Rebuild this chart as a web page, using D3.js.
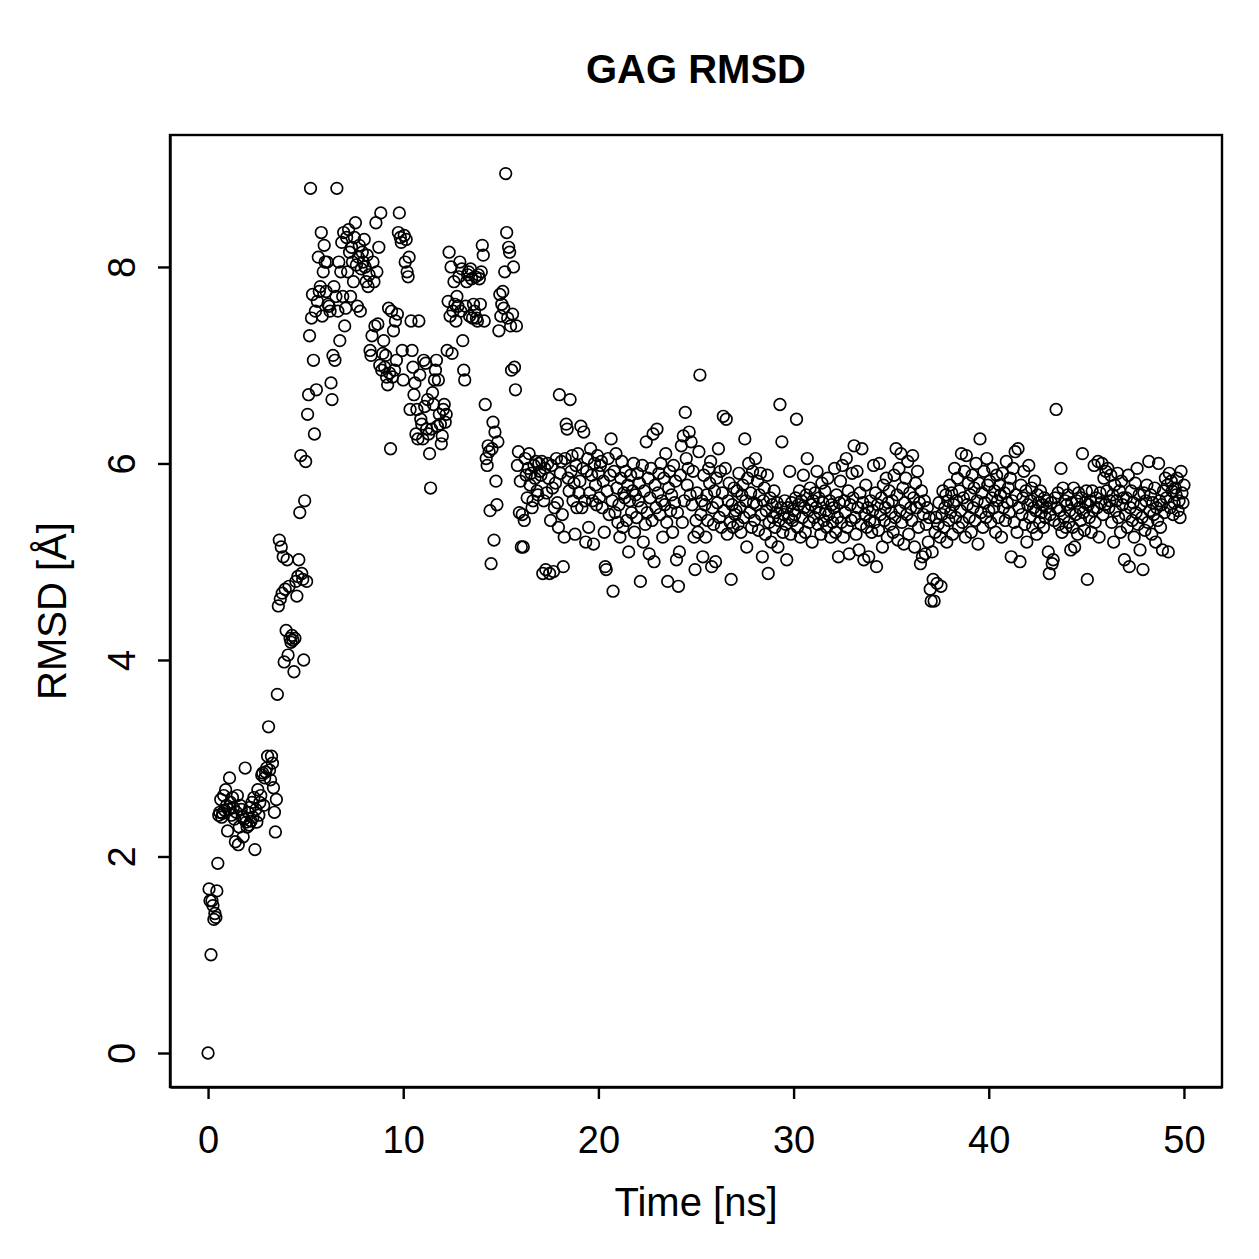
<!DOCTYPE html>
<html>
<head>
<meta charset="utf-8">
<script src="https://cdn.jsdelivr.net/npm/d3@7"></script>
<style>
  body { margin: 0; background: #fff; }
  text { font-family: "Liberation Sans", Arial, Helvetica, sans-serif; fill: #000; }
</style>
</head>
<body>
<svg width="1259" height="1259"></svg>
<script>
// frame interval of the trajectory (ns)
var frameStep = 0.05;

var xTicks = [0, 10, 20, 30, 40, 50];
var yTicks = [0, 2, 4, 6, 8];

// RMSD per frame (frame 0 .. 1000)
var rmsd = [
  0.00,
  1.67, 1.55, 1.00, 1.55, 1.50, 1.36, 1.42, 1.38, 1.65, 1.93, 2.42, 2.45, 2.58, 2.40, 2.44, 2.62, 2.47, 2.68, 2.52, 2.26,
  2.48, 2.80, 2.55, 2.42, 2.60, 2.50, 2.38, 2.15, 2.45, 2.62, 2.12, 2.30, 2.52, 2.48, 2.40, 2.20, 2.38, 2.90, 2.35, 2.30,
  2.45, 2.32, 2.50, 2.36, 2.55, 2.40, 2.60, 2.07, 2.48, 2.35, 2.68, 2.42, 2.55, 2.62, 2.83, 2.85, 2.52, 2.80, 2.86, 2.90,
  3.02, 3.32, 2.88, 2.78, 3.02, 2.95, 2.70, 2.45, 2.25, 2.58, 3.65, 4.55, 5.22, 4.62, 5.15, 4.68, 5.05, 3.98, 4.72, 4.30,
  5.02, 4.05, 4.75, 4.22, 4.18, 4.25, 4.20, 3.88, 4.22, 4.80, 4.65, 4.85, 5.02, 5.50, 6.08, 4.88, 4.82, 4.00, 5.62, 6.02,
  4.80, 6.50, 6.70, 7.30, 8.80, 7.48, 7.72, 7.05, 6.30, 7.55, 6.75, 7.65, 8.10, 7.75, 7.80, 8.35, 7.50, 7.95, 8.22, 8.05,
  7.75, 8.05, 7.62, 7.60, 7.55, 6.82, 6.65, 7.10, 7.80, 7.05, 7.70, 8.80, 7.55, 8.05, 7.25, 7.95, 8.25, 7.70, 8.35, 7.40,
  7.58, 8.30, 7.95, 8.38, 8.15, 7.70, 8.20, 8.05, 7.85, 8.30, 8.45, 8.02, 7.60, 8.10, 8.22, 7.55, 7.98, 8.15, 8.05, 8.28,
  8.00, 7.85, 8.12, 7.80, 7.92, 7.15, 7.10, 7.30, 8.05, 7.85, 7.40, 8.45, 7.95, 7.42, 8.20, 7.00, 8.55, 6.95, 7.12, 7.25,
  6.98, 7.10, 6.88, 6.80, 7.58, 6.92, 6.15, 7.55, 6.88, 7.35, 6.95, 7.45, 7.05, 7.52, 8.35, 8.55, 8.30, 8.25, 7.15, 6.85,
  8.32, 8.05, 8.28, 7.95, 7.90, 8.10, 6.55, 7.45, 7.15, 6.98, 6.70, 6.82, 6.30, 6.55, 6.25, 7.45, 6.90, 6.45, 6.40, 6.25,
  7.05, 6.58, 7.02, 6.35, 6.65, 6.30, 6.10, 5.75, 6.35, 6.72, 6.60, 6.85, 6.95, 7.05, 6.38, 6.85, 6.50, 6.40, 6.20, 6.28,
  6.55, 6.60, 6.42, 6.50, 7.15, 7.65, 8.15, 7.50, 8.00, 7.12, 7.55, 7.85, 7.62, 7.45, 7.70, 7.60, 7.90, 8.05, 7.55, 7.98,
  7.25, 6.95, 6.85, 7.60, 7.85, 7.92, 7.95, 7.50, 7.98, 7.88, 7.48, 7.62, 7.55, 7.90, 7.48, 7.45, 7.92, 7.88, 7.62, 7.95,
  8.22, 8.12, 7.45, 6.60, 6.05, 5.98, 6.18, 6.12, 5.52, 4.98, 6.15, 6.42, 5.22, 6.32, 5.82, 5.58, 6.22, 7.35, 7.72, 7.50,
  7.62, 7.75, 7.58, 7.95, 8.95, 8.35, 7.48, 8.20, 8.15, 7.40, 6.95, 7.52, 8.00, 6.98, 6.75, 7.40, 5.98, 6.12, 5.50, 5.82,
  5.15, 5.48, 5.15, 5.42, 6.05, 5.88, 5.65, 5.95, 6.10, 5.78, 5.90, 5.55, 5.62, 5.98, 5.85, 6.02, 5.72, 5.68, 6.00, 5.92,
  5.88, 6.02, 4.88, 5.62, 5.95, 4.92, 5.70, 6.00, 5.85, 4.88, 5.42, 5.98, 5.75, 4.90, 5.55, 5.80, 6.05, 5.60, 5.35, 6.70,
  5.90, 6.02, 5.48, 4.95, 5.25, 6.05, 6.40, 6.35, 5.85, 5.72, 6.65, 5.92, 6.08, 5.62, 5.80, 5.28, 5.98, 5.55, 6.10, 5.70,
  5.82, 6.38, 5.55, 5.95, 6.32, 5.62, 5.20, 5.92, 6.05, 5.35, 5.70, 6.15, 5.88, 5.62, 5.18, 6.00, 5.78, 5.58, 6.08, 5.90,
  5.65, 5.98, 6.02, 5.55, 5.82, 5.30, 4.95, 4.92, 5.72, 6.05, 5.48, 5.88, 6.25, 5.62, 4.70, 5.92, 5.50, 6.10, 5.75, 5.40,
  5.58, 5.25, 5.85, 6.02, 5.35, 5.70, 5.65, 5.92, 5.42, 5.78, 5.10, 5.62, 5.88, 5.50, 5.72, 6.00, 5.30, 5.68, 5.45, 5.90,
  5.62, 5.80, 4.80, 5.55, 5.98, 5.20, 5.72, 5.38, 6.22, 5.50, 5.85, 5.08, 5.65, 5.95, 5.42, 6.30, 5.00, 5.78, 5.55, 6.35,
  5.70, 5.90, 5.48, 6.00, 5.62, 5.25, 5.85, 5.58, 6.10, 5.40, 4.80, 5.75, 5.92, 5.52, 5.68, 5.30, 5.98, 5.60, 5.82, 5.02,
  5.50, 4.75, 5.10, 5.88, 6.18, 5.40, 6.28, 5.62, 6.52, 6.05, 5.78, 5.95, 6.32, 5.68, 6.22, 5.58, 5.92, 5.25, 4.92, 5.42,
  5.70, 5.30, 6.12, 6.90, 5.48, 5.62, 5.05, 5.88, 5.58, 5.25, 5.68, 5.42, 5.95, 5.80, 6.02, 4.95, 5.55, 5.38, 5.72, 5.00,
  5.85, 5.60, 6.15, 5.45, 5.92, 5.35, 5.70, 6.48, 5.52, 5.95, 6.45, 5.28, 5.62, 5.80, 5.40, 4.82, 5.58, 5.35, 5.75, 5.48,
  5.52, 5.72, 5.38, 5.90, 5.55, 5.30, 5.68, 5.78, 5.45, 6.25, 5.62, 5.15, 5.85, 6.00, 5.50, 5.70, 5.35, 5.92, 5.60, 5.42,
  6.05, 5.58, 5.82, 5.32, 5.68, 5.90, 5.48, 5.05, 5.62, 5.75, 5.28, 5.52, 5.88, 4.88, 5.40, 5.65, 5.20, 5.58, 5.45, 5.72,
  5.35, 5.50, 5.60, 5.15, 5.42, 6.60, 5.55, 6.22, 5.30, 5.48, 5.62, 5.38, 5.02, 5.55, 5.45, 5.92, 5.28, 5.60, 5.42, 5.52,
  5.48, 5.65, 6.45, 5.35, 5.58, 5.72, 5.25, 5.62, 5.45, 5.88, 5.55, 5.30, 5.68, 6.05, 5.52, 5.40, 5.75, 5.58, 5.20, 5.62,
  5.45, 5.70, 5.55, 5.92, 5.38, 5.65, 5.50, 5.28, 5.80, 5.60, 5.42, 5.72, 5.52, 5.35, 5.85, 5.48, 5.62, 5.25, 5.58, 5.40,
  5.55, 5.95, 5.30, 5.68, 5.45, 5.05, 5.60, 5.82, 5.40, 5.98, 5.25, 5.62, 5.50, 6.05, 5.35, 5.72, 5.08, 5.58, 5.42, 5.90,
  5.65, 6.18, 5.45, 5.28, 5.92, 5.55, 5.12, 5.70, 5.38, 6.15, 5.60, 5.02, 5.48, 5.78, 5.35, 5.55, 5.05, 5.42, 5.62, 5.30,
  5.52, 5.98, 5.40, 5.70, 4.95, 5.58, 5.32, 6.00, 5.48, 5.65, 5.15, 5.78, 5.42, 5.55, 5.85, 5.25, 5.60, 5.72, 5.38, 5.50,
  5.62, 5.30, 5.88, 5.45, 6.15, 5.68, 5.22, 5.95, 5.52, 6.10, 5.40, 5.75, 5.18, 5.60, 5.85, 5.48, 6.02, 5.28, 5.70, 5.55,
  5.42, 6.08, 5.65, 5.15, 5.80, 5.55, 5.92, 5.35, 5.60, 4.98, 5.72, 5.05, 5.48, 5.62, 5.08, 5.38, 5.55, 5.20, 5.45, 4.72,
  4.60, 5.10, 4.82, 4.60, 5.30, 5.45, 4.78, 5.38, 5.60, 5.25, 4.75, 5.48, 5.72, 5.35, 5.55, 5.68, 5.20, 5.62, 5.42, 5.78,
  5.50, 5.70, 5.28, 5.58, 5.95, 5.45, 5.62, 5.85, 5.35, 5.72, 5.52, 6.10, 5.40, 5.65, 5.92, 5.25, 6.08, 5.58, 5.80, 5.45,
  5.68, 5.30, 5.88, 5.55, 5.75, 5.42, 6.00, 5.62, 5.18, 5.80, 6.25, 5.50, 5.70, 5.35, 5.92, 5.60, 5.45, 6.05, 5.78, 5.52,
  5.82, 5.40, 5.65, 5.95, 5.55, 5.72, 5.30, 5.88, 5.62, 5.45, 5.78, 5.68, 5.25, 5.90, 5.55, 5.70, 5.42, 6.02, 5.60, 5.75,
  5.50, 5.85, 5.05, 5.62, 5.95, 5.40, 6.12, 5.68, 5.30, 6.15, 5.55, 5.00, 5.78, 5.48, 5.65, 5.92, 5.38, 5.72, 5.20, 5.58,
  5.98, 5.45, 5.62, 5.75, 5.35, 5.55, 5.82, 5.52, 5.28, 5.68, 5.60, 5.40, 5.72, 5.50, 5.58, 5.35, 5.65, 5.45, 5.55, 5.62,
  5.10, 4.88, 5.48, 5.60, 4.98, 5.02, 5.42, 5.65, 6.55, 5.55, 5.70, 5.38, 5.52, 5.95, 5.30, 5.75, 5.45, 5.62, 5.35, 5.58,
  5.68, 5.40, 5.52, 5.12, 5.60, 5.35, 5.75, 5.15, 5.48, 5.62, 5.28, 5.70, 5.55, 5.42, 5.65, 6.10, 5.50, 5.32, 5.60, 5.72,
  4.82, 5.58, 5.45, 5.62, 5.30, 5.72, 5.52, 5.98, 5.40, 5.65, 5.55, 6.02, 5.25, 5.70, 5.60, 6.00, 5.48, 5.85, 5.58, 5.92,
  5.72, 5.95, 5.55, 5.62, 5.88, 5.40, 5.68, 5.20, 5.78, 5.52, 5.62, 5.90, 5.45, 5.72, 5.30, 5.82, 5.58, 5.65, 5.02, 5.48,
  5.65, 5.35, 5.88, 4.95, 5.55, 5.72, 5.42, 5.60, 5.25, 5.80, 5.50, 5.95, 5.38, 5.68, 5.12, 5.58, 5.45, 4.92, 5.70, 5.32,
  5.62, 5.78, 5.40, 6.02, 5.52, 5.68, 5.28, 5.60, 5.48, 5.75, 5.20, 5.55, 5.42, 6.00, 5.62, 5.35, 5.58, 5.12, 5.72, 5.50,
  5.85, 5.65, 5.78, 5.10, 5.90, 5.55, 5.82, 5.72, 5.48, 5.60, 5.75, 5.68, 5.85, 5.52, 5.62, 5.45, 5.92, 5.70, 5.60, 5.78
];

var svg = d3.select("svg"),
    box = { left: 170, right: 1222, top: 135, bottom: 1087 };

// R style: axis range padded 4% on each side
var x = d3.scaleLinear().domain([-1.95, 51.95]).range([box.left, box.right]),
    y = d3.scaleLinear().domain([-0.346, 9.343]).range([box.bottom, box.top]);

var data = rmsd.map(function (v, i) {
    return { t: i * frameStep, r: v };
});

// punten
svg.append("g")
    .selectAll("circle")
    .data(data)
    .enter().append("circle")
    .attr("cx", function (d) { return x(d.t); })
    .attr("cy", function (d) { return y(d.r); })
    .attr("r", 5.8)
    .attr("fill", "none")
    .attr("stroke", "#000")
    .attr("stroke-width", 1.7);

// kader om de plot
svg.append("rect")
    .attr("x", box.left)
    .attr("y", box.top)
    .attr("width", box.right - box.left)
    .attr("height", box.bottom - box.top)
    .attr("fill", "none")
    .attr("stroke", "#000")
    .attr("stroke-width", 2.4);

// x as
var gx = svg.append("g")
    .attr("transform", "translate(0," + box.bottom + ")")
    .call(d3.axisBottom(x).tickValues(xTicks).tickSize(12).tickSizeOuter(0));

// y as
var gy = svg.append("g")
    .attr("transform", "translate(" + box.left + ",0)")
    .call(d3.axisLeft(y).tickValues(yTicks).tickSize(12).tickSizeOuter(0));

[gx, gy].forEach(function (g) {
    g.select(".domain").attr("stroke-width", 2.4);
    g.selectAll(".tick line").attr("stroke-width", 2.4);
    g.selectAll("text").style("font-size", "38px").attr("font-family", null);
});

gx.selectAll(".tick text").attr("y", 66).attr("dy", null);

// y labels rotated like R
gy.selectAll(".tick text")
    .attr("x", null)
    .attr("dy", null)
    .attr("text-anchor", "middle")
    .attr("transform", "translate(-35,0) rotate(-90)");

svg.append("text")
    .attr("x", (box.left + box.right) / 2)
    .attr("y", 1216)
    .attr("text-anchor", "middle")
    .style("font-size", "40px")
    .text("Time [ns]");

svg.append("text")
    .attr("transform", "translate(66," + (box.top + box.bottom) / 2 + ") rotate(-90)")
    .attr("text-anchor", "middle")
    .style("font-size", "40px")
    .text("RMSD [Å]");

svg.append("text")
    .attr("x", (box.left + box.right) / 2)
    .attr("y", 83)
    .attr("text-anchor", "middle")
    .style("font-size", "40px")
    .style("font-weight", "bold")
    .text("GAG RMSD");
</script>
</body>
</html>
